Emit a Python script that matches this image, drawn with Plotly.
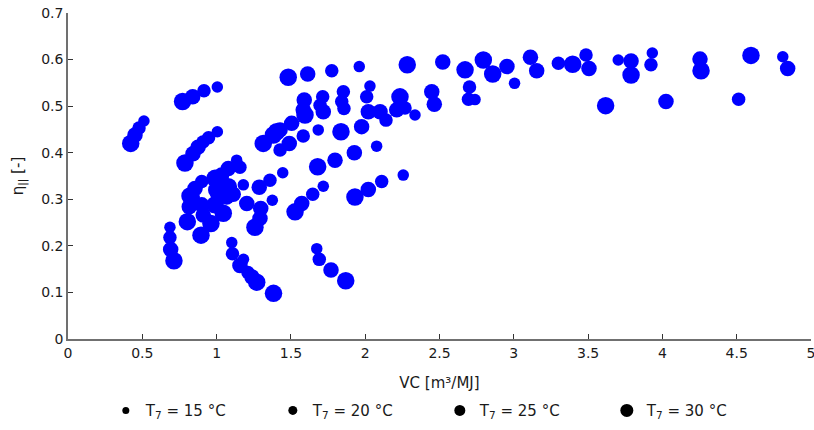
import plotly.graph_objects as go

# Measured points, grouped by inlet temperature T7
vc_15 = [0.511, 1.005, 1.005, 0.686, 1.102, 1.181, 1.674, 1.135, 1.180, 1.375, 1.684, 1.445,
         1.960, 2.032, 2.077, 2.335, 2.256, 1.718, 3.005, 2.739, 3.703, 3.932, 4.810]
eta_15 = [0.468, 0.541, 0.445, 0.240, 0.207, 0.171, 0.194, 0.384, 0.331, 0.298, 0.449, 0.357,
          0.585, 0.543, 0.414, 0.481, 0.352, 0.328, 0.549, 0.514, 0.599, 0.614, 0.606]

vc_20 = [0.478, 0.915, 0.908, 0.946, 0.686, 1.107, 1.211, 1.691, 1.157, 0.900, 1.359, 0.843,
         1.427, 1.583, 1.775, 1.714, 1.853, 1.857, 1.842, 1.696, 2.010, 2.140, 2.268, 1.647,
         2.111, 2.702, 2.695, 3.300, 3.486, 3.923, 4.513]
eta_20 = [0.453, 0.533, 0.423, 0.432, 0.218, 0.183, 0.143, 0.171, 0.369, 0.338, 0.341, 0.305,
          0.406, 0.436, 0.576, 0.520, 0.531, 0.495, 0.510, 0.502, 0.520, 0.470, 0.496, 0.311,
          0.338, 0.541, 0.515, 0.592, 0.610, 0.589, 0.515]

vc_25 = [0.451, 0.839, 0.841, 0.875, 0.691, 1.157, 1.238, 1.770, 1.079, 1.034, 0.855, 1.287,
         1.112, 0.816, 0.900, 0.910, 1.068, 1.011, 1.203, 1.297, 1.292, 1.427, 1.505, 1.489,
         1.613, 1.590, 1.583, 1.718, 1.927, 1.797, 1.976, 2.021, 2.100, 2.212, 1.573, 2.021,
         2.522, 2.954, 3.112, 3.154, 2.448, 2.465, 3.506, 3.789, 4.253, 4.843, 4.024]
eta_25 = [0.438, 0.520, 0.398, 0.412, 0.192, 0.158, 0.133, 0.148, 0.366, 0.352, 0.323, 0.326,
          0.311, 0.284, 0.288, 0.266, 0.305, 0.309, 0.291, 0.280, 0.259, 0.449, 0.463, 0.420,
          0.569, 0.513, 0.492, 0.488, 0.400, 0.384, 0.456, 0.488, 0.488, 0.492, 0.291, 0.321,
          0.595, 0.585, 0.605, 0.576, 0.531, 0.504, 0.581, 0.597, 0.601, 0.581, 0.510]

vc_30 = [0.422, 0.771, 0.787, 0.713, 1.270, 1.383, 1.869, 0.989, 0.821, 1.079, 1.001, 0.803,
         0.895, 0.962, 0.989, 1.045, 1.258, 1.314, 1.404, 1.382, 1.482, 1.595, 1.837, 1.680,
         2.234, 1.528, 1.931, 2.283, 2.672, 2.795, 2.858, 3.396, 3.789, 4.260, 4.596, 3.618]
eta_30 = [0.420, 0.510, 0.378, 0.168, 0.122, 0.098, 0.125, 0.345, 0.307, 0.327, 0.320, 0.252,
          0.223, 0.248, 0.288, 0.270, 0.240, 0.420, 0.445, 0.438, 0.562, 0.481, 0.445, 0.370,
          0.520, 0.273, 0.305, 0.589, 0.578, 0.599, 0.569, 0.590, 0.567, 0.576, 0.609, 0.501]

temps = [15, 20, 25, 30]
series = [(vc_15, eta_15), (vc_20, eta_20), (vc_25, eta_25), (vc_30, eta_30)]
point_sizes = [11.5, 13.5, 15.5, 17.5]
legend_sizes = [7, 9, 11, 13]

FONT = "DejaVu Sans, Liberation Sans, Arial, sans-serif"

fig = go.Figure()

for (xs, ys), s in zip(series, point_sizes):
    fig.add_trace(go.Scatter(
        x=xs, y=ys, mode="markers", showlegend=False,
        marker=dict(size=s, color="#0000ff", line=dict(width=0)),
    ))

# Legend entries drawn in black, one per temperature
for t, s in zip(temps, legend_sizes):
    fig.add_trace(go.Scatter(
        x=[None], y=[None], mode="markers",
        name=f"T<sub>7</sub> = {t} °C",
        marker=dict(size=s, color="black"),
    ))

axis_common = dict(
    showline=True, linecolor="#707070", linewidth=1.5,
    ticks="inside", ticklen=5, tickcolor="#333333", tickwidth=1,
    showgrid=False, zeroline=False, mirror=False,
    ticklabeloverflow="allow", automargin=False,
    tickfont=dict(family=FONT, size=14, color="#1a1a1a"),
)

fig.update_layout(
    width=814, height=430,
    margin=dict(l=68, r=3, t=13, b=91),
    paper_bgcolor="white", plot_bgcolor="white",
    font=dict(family=FONT, size=14, color="#1a1a1a"),
    xaxis=dict(range=[0, 5], dtick=0.5, tick0=0,
               title=dict(text="VC [m³/MJ]", font=dict(family=FONT, size=15), standoff=18),
               **axis_common),
    yaxis=dict(range=[0, 0.7], dtick=0.1, tick0=0, tickformat=".1~f",
               title=dict(text="η<sub>||</sub> [-]", font=dict(family=FONT, size=15), standoff=14),
               **axis_common),
    legend=dict(
        orientation="h", xref="container", yref="container",
        x=0.13, y=0.045, xanchor="left", yanchor="middle",
        entrywidth=122, entrywidthmode="pixels",
        font=dict(family=FONT, size=15, color="#1a1a1a"),
        itemsizing="trace", bgcolor="rgba(0,0,0,0)",
    ),
)

fig.write_html("out.html")
